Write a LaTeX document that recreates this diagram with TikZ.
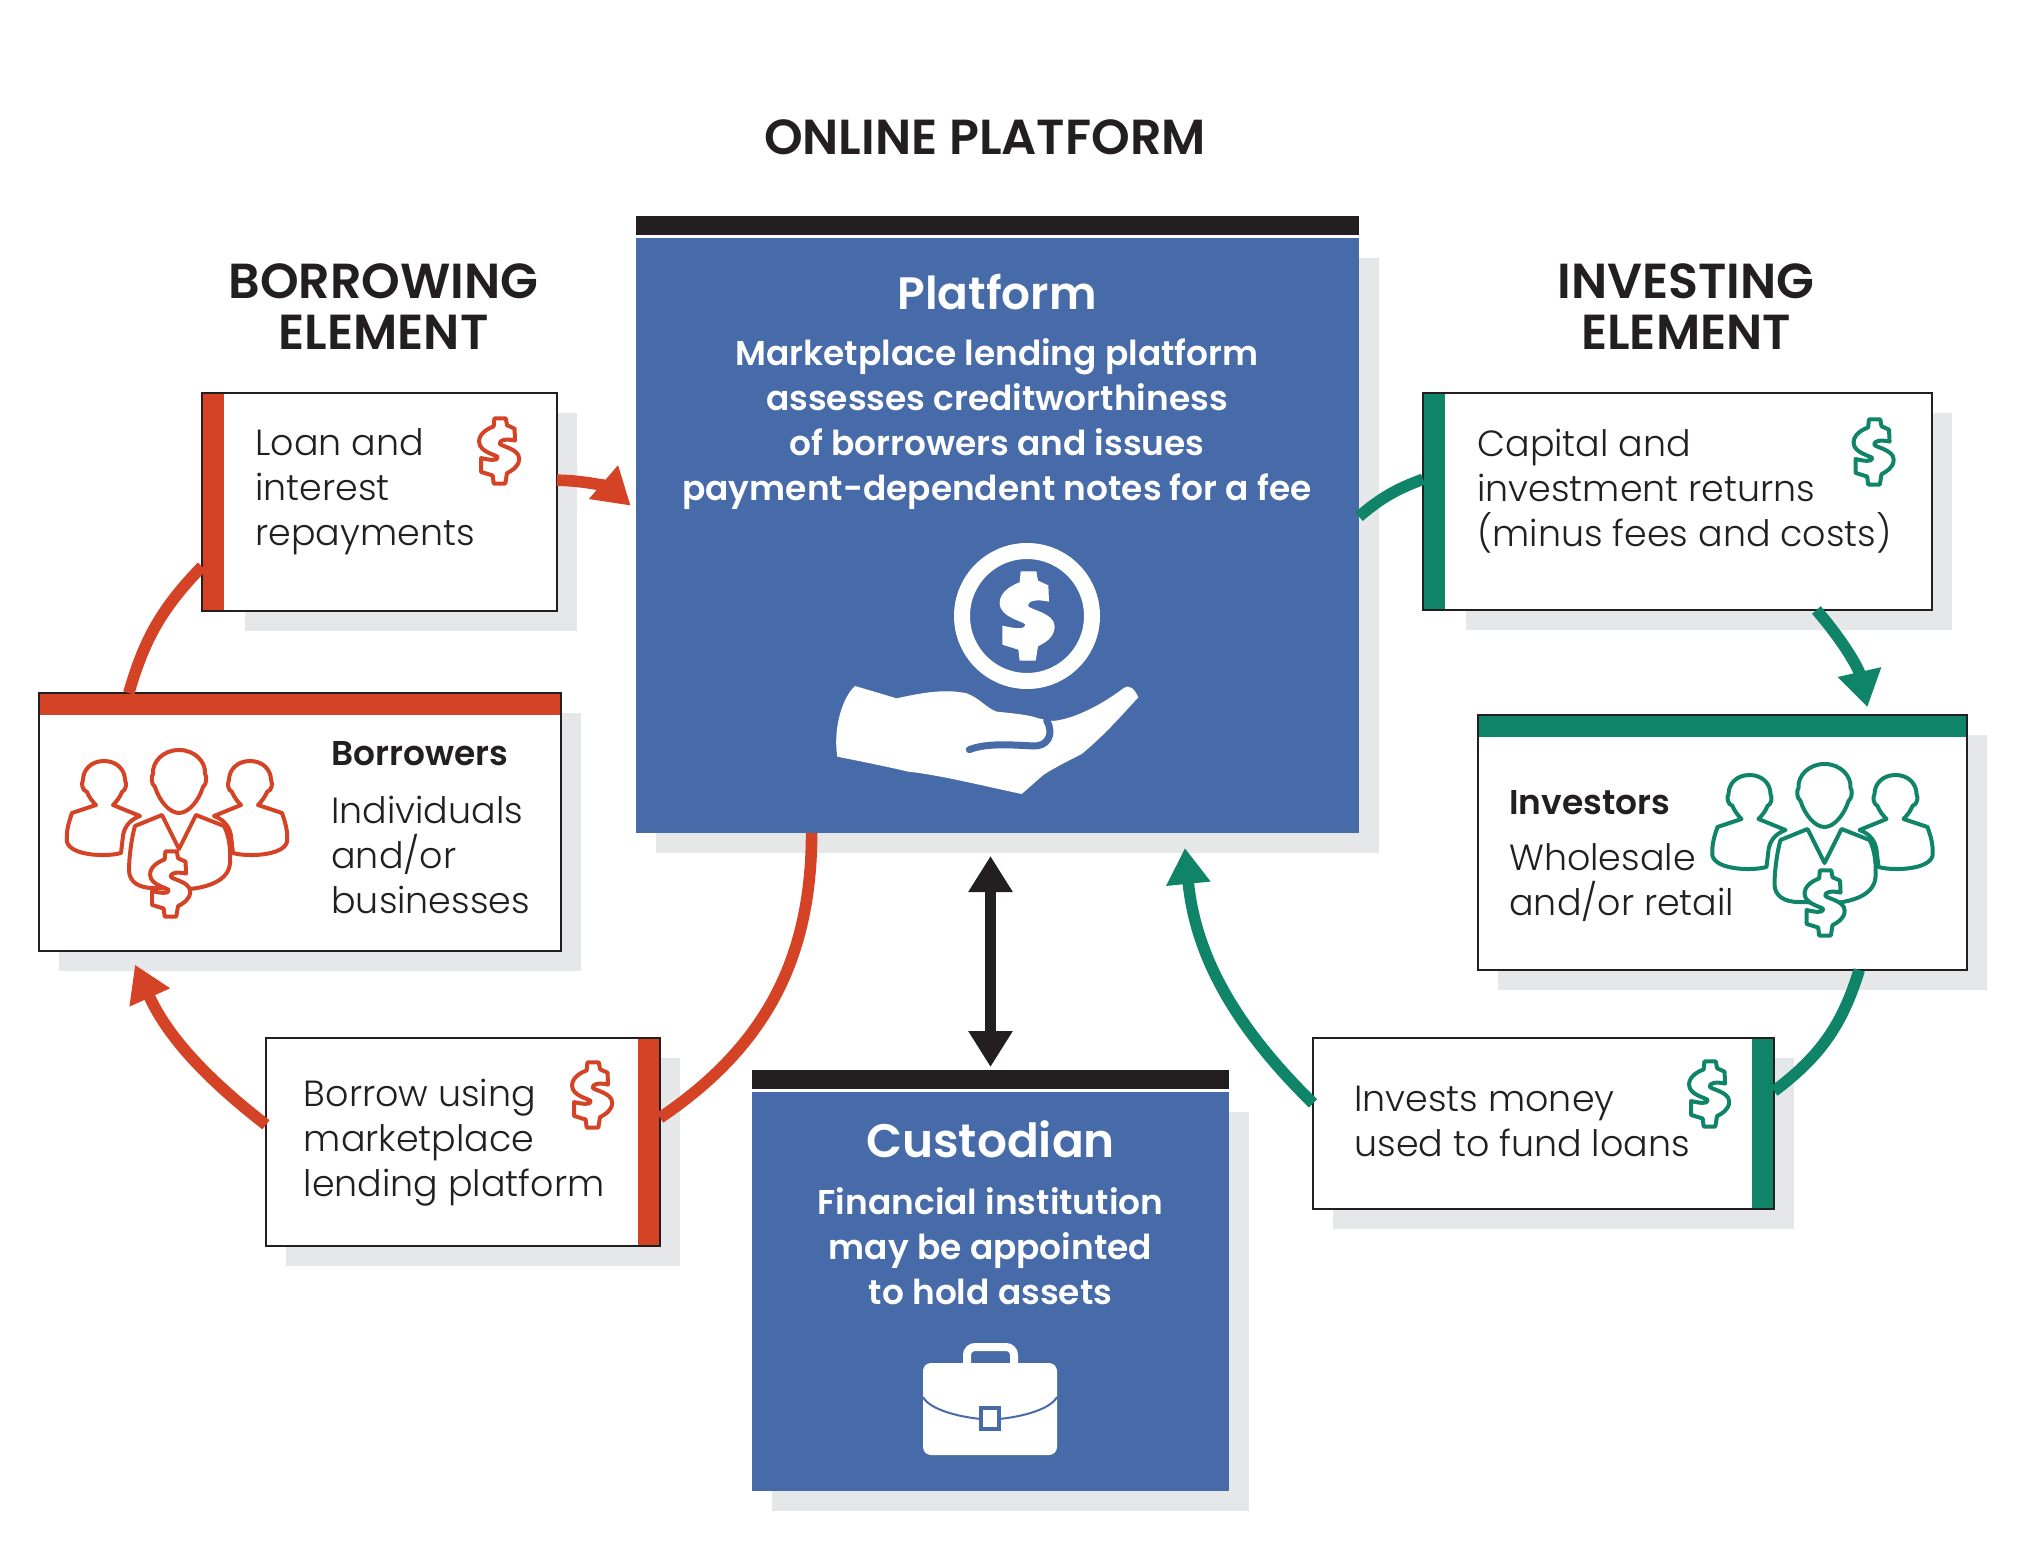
\documentclass[tikz,border=0pt]{standalone}
\usepackage{fontspec}
\usetikzlibrary{arrows.meta}
\setmainfont{Poppins}
\newfontfamily\lightfont{Poppins Light}
\newfontfamily\headfont{Poppins SemiBold}
\definecolor{ink}{HTML}{231F20}
\definecolor{brick}{HTML}{D44325}
\definecolor{teal}{HTML}{0F8468}
\definecolor{steel}{HTML}{466BA8}
\definecolor{shadowgrey}{HTML}{E6E7E8}
\newcommand{\dollarpath}{(-19,-134) -- (28,-134) -- (33,-106) -- (64,-92) -- (66,-43)
    .. controls (28,-51) and (3,-46) .. (3,-31) .. controls (3,-20) and (83,-10) .. (83,31)
    .. controls (83,66) and (50,82) .. (33,91) -- (26,134) -- (-22,134) -- (-26,101) -- (-74,86) -- (-74,29)
    .. controls (-42,36) and (-7,43) .. (-5,26) .. controls (-7,16) and (-82,6) .. (-82,-39)
    .. controls (-82,-74) and (-42,-94) .. (-22,-101) -- cycle}
\tikzset{
    bigtip/.tip={Triangle[length=18pt,width=21pt]},
    panel/.style={draw=ink,fill=white,line width=1pt,inner sep=0pt,outer sep=0pt},
    bluepanel/.style={fill=steel,inner sep=0pt,outer sep=0pt},
    flow/.style={line width=5.8pt,draw=#1},
    title/.style={font=\headfont\fontsize{24.6}{25.5}\selectfont,text=ink,align=center},
    bodytext/.style={font=\lightfont\fontsize{18.2}{22.5}\selectfont,text=ink,align=left,anchor=west,inner sep=0pt},
    boldtext/.style={font=\headfont\fontsize{17.2}{22.5}\selectfont,text=ink,anchor=west,inner sep=0pt},
    bluetext/.style={font=\headfont\fontsize{17.2}{22.5}\selectfont,text=white,align=center},
    pics/dollarsign/.style={code={\draw[draw=#1,fill=white,line width=2pt,line join=round] \dollarpath;}},
    pics/people/.style={code={
        \foreach \s/\d in {1/0,-1/-4} {
            \draw[shift={(\d,0)},xscale=\s,draw=#1,line width=2pt,line join=round] (-75,-59) .. controls (-62,-59) and (-54,-50) .. (-54,-40)
                .. controls (-52,-36) and (-53,-30) .. (-57,-28) .. controls (-59,-23) and (-62,-19) .. (-66,-15) -- (-39,-4)
                .. controls (-50,0) and (-55,8) .. (-56,16) -- (-58,33) .. controls (-72,37) and (-108,36) .. (-112,22)
                .. controls (-113,10) and (-110,2) .. (-107,-7) -- (-83,-15) .. controls (-87,-19) and (-90,-23) .. (-92,-28)
                .. controls (-97,-30) and (-98,-36) .. (-96,-40) .. controls (-96,-50) and (-88,-59) .. (-75,-59) -- cycle;
        }
        \draw[draw=#1,line width=2pt,line join=round] (0,-70) .. controls (16,-70) and (27,-58) .. (26,-46)
            .. controls (28,-44) and (28,-36) .. (24,-33) .. controls (20,-20) and (10,-7) .. (0,-7)
            .. controls (-10,-7) and (-20,-20) .. (-24,-33) .. controls (-28,-36) and (-28,-44) .. (-26,-46)
            .. controls (-27,-58) and (-16,-70) .. (0,-70) -- cycle;
        \draw[draw=#1,line width=2pt,line join=round] (-17,-5) -- (-44,6) .. controls (-48,20) and (-50,40) .. (-50,50)
            .. controls (-50,62) and (-40,68) .. (-26,68) -- (11,69) .. controls (30,67) and (50,60) .. (51,43)
            .. controls (52,30) and (50,15) .. (45,6) -- (17,-5) -- (0,29) -- cycle;
    }},
}
\begin{document}
\begin{tikzpicture}[x=.5pt,y=-.5pt]

    \useasboundingbox (0,0) rectangle (2026,1551);

    %shadows and boxes
    \foreach \name/\xa/\ya/\xb/\yb/\sx in {loan/202/393/557/611/43,borrowers/39/693/561/951/20,borrow/266/1038/660/1246/20,
        capital/1423/393/1932/610/43,investors/1478/715/1967/970/20,invests/1313/1038/1774/1209/20} {
        \fill[shadowgrey] (\xa+\sx,\ya+20) rectangle (\xb+20,\yb+20);
        \node[panel,minimum width={(\xb-\xa)*.5pt},minimum height={(\yb-\ya)*.5pt}] (\name) at ({(\xa+\xb)/2},{(\ya+\yb)/2}) {};
    }
    \foreach \name/\xa/\ya/\xb/\yb in {platform/636/238/1359/833,custodian/752/1092/1229/1491} {
        \fill[shadowgrey] (\xa+20,\ya+20) rectangle (\xb+20,\yb+20);
        \node[bluepanel,minimum width={(\xb-\xa)*.5pt},minimum height={(\yb-\ya)*.5pt}] (\name) at ({(\xa+\xb)/2},{(\ya+\yb)/2}) {};
    }
    \node[fill=ink,inner sep=0pt,outer sep=0pt,minimum width=361.5pt,minimum height=9.5pt] (platformbar) at (997.5,225.5) {};
    \node[fill=ink,inner sep=0pt,outer sep=0pt,minimum width=238.5pt,minimum height=9.5pt] (custodianbar) at (990.5,1079.5) {};

    %colour bars
    \fill[brick] ([shift={(.5pt,-.5pt)}]loan.north west) rectangle ([shift={(11pt,.5pt)}]loan.south west);
    \fill[brick] ([shift={(.5pt,-.5pt)}]borrowers.north west) rectangle ([shift={(-.5pt,-11pt)}]borrowers.north east);
    \fill[brick] ([shift={(-11pt,-.5pt)}]borrow.north east) rectangle ([shift={(-.5pt,.5pt)}]borrow.south east);
    \fill[teal] ([shift={(.5pt,-.5pt)}]capital.north west) rectangle ([shift={(11pt,.5pt)}]capital.south west);
    \fill[teal] ([shift={(.5pt,-.5pt)}]investors.north west) rectangle ([shift={(-.5pt,-11pt)}]investors.north east);
    \fill[teal] ([shift={(-11pt,-.5pt)}]invests.north east) rectangle ([shift={(-.5pt,.5pt)}]invests.south east);

    %connectors
    \draw[flow=brick,-bigtip,shorten >=3.5pt] (loan.7.7) to[bend left=20] (platform.176.8);
    \draw[flow=brick] (loan.200.7) to[bend right=14] (borrowers.143.9);
    \draw[flow=brick,-bigtip,shorten >=7.5pt] (borrow.175) to[bend left=14] (borrowers.217.4);
    \draw[flow=brick] (platform.238.6) to[bend left=28] (borrow.7.8);
    \draw[flow=teal] (platform.3.3) to[bend left=10] (capital.175.5);
    \draw[flow=teal,-bigtip,shorten >=4pt] (capital.-38.3) to[bend left=14] (investors.41.2);
    \draw[flow=teal] (investors.-43.3) to[bend left=18] (invests.8.8);
    \draw[flow=teal,-bigtip,shorten >=7.5pt] (invests.175) to[bend left=20] (platform.-58.7);
    \draw[line width=5.5pt,draw=ink,bigtip-bigtip,shorten <=1.5pt,shorten >=11.5pt] (custodianbar.north) -- (custodianbar.north |- platform.south);

    %titles
    \node[title] (onlinetitle) at (985,137) {ONLINE PLATFORM};
    \node[title] (borrowingtitle) at (383.5,306.5) {BORROWING\\ELEMENT};
    \node[title] (investingtitle) at (1686,306.5) {INVESTING\\ELEMENT};

    %box texts
    \node[bodytext] (loantext) at (255,492) {Loan and\\interest\\repayments};
    \node[boldtext] (borrowershead) at (331,753.5) {Borrowers};
    \node[bodytext] (borrowerstext) at (331,855) {Individuals\\and/or\\businesses};
    \node[bodytext] (borrowtext) at (303.5,1143) {Borrow using\\marketplace\\lending platform};
    \node[bodytext] (capitaltext) at (1477,491) {Capital and\\investment returns\\(minus fees and costs)};
    \node[boldtext] (investorshead) at (1509,802.5) {Investors};
    \node[bodytext] (investorstext) at (1509,883) {Wholesale\\and/or retail};
    \node[bodytext] (investstext) at (1354,1121) {Invests money\\used to fund loans};

    %blue panel texts
    \node[font=\headfont\fontsize{22.7}{26}\selectfont,text=white] (platformhead) at (997,292) {Platform};
    \node[bluetext] (platformtext) at (997,424.3) {Marketplace lending platform\\assesses creditworthiness\\of borrowers and issues\\payment-dependent notes for a fee};
    \node[font=\headfont\fontsize{23.5}{26}\selectfont,text=white] (custodianhead) at (990.5,1139) {Custodian};
    \node[bluetext] (custodiantext) at (990.5,1246) {Financial institution\\may be appointed\\to hold assets};

    %dollar signs
    \pic[scale=.243] at (499,451) {dollarsign=brick};
    \pic[scale=.243] at (592,1095) {dollarsign=brick};
    \pic[scale=.243] at (1873.5,452) {dollarsign=teal};
    \pic[scale=.243] at (1709,1094) {dollarsign=teal};

    %people
    \pic at (179,820) {people=brick};
    \pic[scale=.243] at (170,884) {dollarsign=brick};
    \pic at (1824.5,834) {people=teal};
    \pic[scale=.243] at (1824.5,903) {dollarsign=teal};

    %coin and hand
    \draw[white,line width=8pt] (1027,616) circle (65);
    \fill[white,shift={(1027,616)},scale=1/3] \dollarpath;
    \begin{scope}[shift={(780,500)},scale=1/3]
        \fill[white] (225,558) -- (350,595) .. controls (420,580) and (490,565) .. (560,580)
            .. controls (600,595) and (620,625) .. (650,635) .. controls (700,640) and (750,645) .. (775,655)
            -- (815,663) .. controls (850,662) and (930,640) .. (1030,565) .. controls (1050,550) and (1065,570) .. (1075,592)
            .. controls (1030,640) and (980,700) .. (905,762) .. controls (860,785) and (820,805) .. (790,825)
            -- (725,882) .. controls (620,860) and (480,825) .. (385,815) .. controls (300,795) and (220,780) .. (172,770)
            .. controls (160,700) and (180,600) .. (225,558) -- cycle;
        \draw[steel,line width=3.5pt,line cap=round] (568,749) .. controls (620,728) and (700,735) .. (760,738)
            .. controls (800,740) and (825,705) .. (800,662);
    \end{scope}

    %briefcase
    \draw[white,line width=4pt,rounded corners=4pt] (967,1370) -- (967,1347) -- (1014,1347) -- (1014,1370);
    \fill[white,rounded corners=4pt] (923,1363) rectangle (1057,1455);
    \draw[steel,line width=1pt] (923,1397) .. controls (930,1410) and (960,1417) .. (981,1419);
    \draw[steel,line width=1pt] (1057,1397) .. controls (1050,1410) and (1020,1417) .. (999,1419);
    \draw[steel,line width=2pt,fill=white] (981,1408) rectangle (999,1429);

\end{tikzpicture}
\end{document}
